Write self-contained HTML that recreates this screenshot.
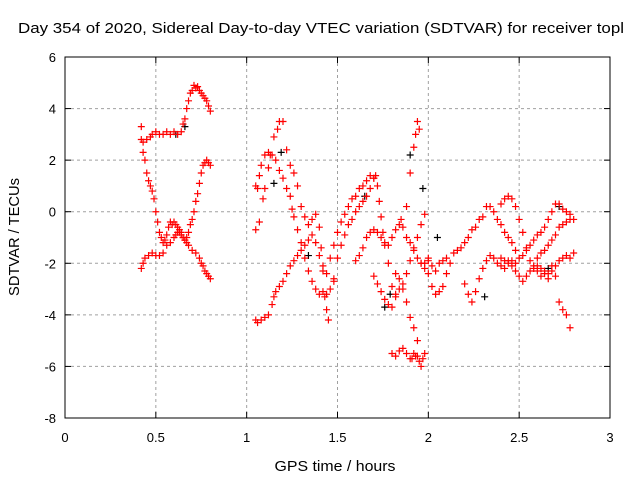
<!DOCTYPE html>
<html><head><meta charset="utf-8"><style>
body{margin:0;background:#fff}
svg{display:block;font-family:"Liberation Sans",sans-serif}
</style></head><body>
<svg id="chart" width="640" height="480">
<text x="18" y="33" font-size="15" textLength="606" lengthAdjust="spacingAndGlyphs">Day 354 of 2020, Sidereal Day-to-day VTEC variation (SDTVAR) for receiver topl</text>
<g id="grid"></g><g id="ticks"></g><g id="marks"></g>
<rect x="65" y="57" width="545" height="361" fill="none" stroke="#000"/>
<text x="335" y="471" text-anchor="middle" font-size="15" textLength="121" lengthAdjust="spacingAndGlyphs">GPS time / hours</text>
<text transform="translate(19,237) rotate(-90)" text-anchor="middle" font-size="15" textLength="118" lengthAdjust="spacingAndGlyphs">SDTVAR / TECUs</text>
</svg>
<script>
const xTicks=[0,0.5,1,1.5,2,2.5,3];
const xTickLabels=["0","0.5","1","1.5","2","2.5","3"];
const yTicks=[-8,-6,-4,-2,0,2,4,6];
const yTickLabels=["-8","-6","-4","-2","0","2","4","6"];
const redT=[0.42,0.43,0.45,0.47,0.48,0.5,0.52,0.54,0.56,0.58,0.6,0.62,0.64,0.65,0.66,0.67,0.68,0.69,0.7,0.71,0.72,0.73,0.74,0.75,0.76,0.77,0.78,0.79,0.8,
0.42,0.43,0.44,0.45,0.46,0.47,0.48,0.49,0.5,0.51,0.52,0.53,0.54,0.55,0.56,0.57,0.58,0.59,0.6,0.61,0.62,0.63,0.64,0.65,0.66,0.67,0.68,0.7,0.72,0.74,0.75,0.76,0.77,0.78,0.79,0.8,
0.42,0.43,0.44,0.46,0.48,0.5,0.52,0.54,0.56,0.58,0.6,0.61,0.62,0.63,0.64,0.65,0.66,0.67,0.68,0.69,0.7,0.71,0.72,0.73,0.74,0.75,0.76,0.77,0.78,0.79,0.8,
1.05,1.06,1.08,1.1,1.12,1.14,1.15,1.16,1.18,1.2,1.22,1.24,1.26,1.28,1.3,1.32,1.34,1.36,1.38,1.4,1.42,1.44,1.46,1.48,1.5,1.52,1.54,1.56,1.58,1.6,1.62,1.64,1.66,1.68,1.7,
1.05,1.06,1.07,1.08,1.1,1.12,1.14,1.16,1.18,1.2,1.22,1.24,1.25,1.26,1.28,1.3,1.32,1.34,1.36,1.38,1.4,1.42,1.44,1.46,1.48,
1.05,1.07,1.09,1.1,1.12,1.13,1.15,1.17,1.18,1.2,1.22,1.24,1.26,1.28,1.3,1.32,1.34,1.36,1.38,1.4,1.41,1.42,1.43,1.44,1.45,
1.48,1.5,1.52,1.54,1.56,1.58,1.6,1.62,1.64,1.66,1.68,1.7,1.71,1.72,1.73,1.74,1.75,1.76,1.78,1.8,1.82,
1.6,1.62,1.64,1.66,1.68,1.7,1.72,1.74,1.76,1.78,1.8,1.82,1.84,1.86,1.88,1.9,1.92,1.94,1.96,1.98,2.0,
1.7,1.72,1.74,1.76,1.78,1.8,1.82,1.84,1.86,1.88,1.9,1.92,1.94,1.96,1.98,
1.8,1.82,1.84,1.86,1.88,1.9,1.91,1.92,1.93,1.94,1.95,1.96,1.97,1.98,2.0,2.02,2.04,2.06,2.08,2.1,
1.82,1.84,1.86,1.88,1.9,1.92,1.94,1.96,1.98,2.0,
1.85,1.88,1.9,1.92,1.93,1.94,1.95,
2.02,2.04,2.06,2.08,2.1,2.12,2.14,2.16,2.18,2.2,2.22,2.24,2.26,2.28,2.3,2.32,2.34,2.36,2.38,2.4,2.42,2.44,2.46,2.48,
2.2,2.22,2.24,2.26,2.28,2.3,2.32,2.34,2.36,2.38,2.4,2.42,2.44,2.46,2.48,2.5,2.52,2.54,2.56,2.58,2.6,2.62,2.64,2.66,2.68,2.7,2.72,2.74,2.76,2.78,2.8,
2.4,2.42,2.44,2.46,2.48,2.5,2.52,2.54,2.56,2.58,2.6,2.62,2.64,2.66,2.68,2.7,2.72,2.74,2.76,2.78,2.8,
2.4,2.42,2.44,2.46,2.48,2.5,2.52,2.54,2.56,2.58,2.6,2.62,2.64,2.66,2.68,2.7,2.72,2.74,2.76,2.78,
2.6,2.62,2.64,2.66,2.68,2.7,2.72,2.74,2.76,2.78];
const redV=[2.8,2.7,2.8,2.9,3.0,3.1,3.0,3.0,3.1,3.0,3.1,3.0,3.1,3.4,3.6,4.0,4.3,4.6,4.7,4.9,4.8,4.85,4.7,4.6,4.5,4.4,4.3,4.1,3.9,
3.3,2.3,2.0,1.5,1.2,1.0,0.8,0.5,0.0,-0.4,-0.8,-1.0,-1.2,-1.1,-0.9,-0.6,-0.4,-0.5,-0.4,-0.5,-0.6,-0.8,-0.9,-1.0,-1.1,-1.2,-1.3,-1.5,-1.6,-1.8,-2.0,-2.1,-2.3,-2.4,-2.5,-2.6,
-2.2,-2.0,-1.8,-1.7,-1.6,-1.7,-1.7,-1.6,-1.3,-1.2,-1.0,-0.9,-0.8,-0.7,-0.8,-1.0,-1.1,-1.0,-0.8,-0.5,-0.3,0.0,0.4,0.7,1.1,1.5,1.8,1.9,2.0,1.9,1.8,
-4.2,-4.3,-4.2,-4.1,-4.0,-3.6,-3.3,-3.1,-2.9,-2.7,-2.4,-2.1,-1.9,-1.7,-1.5,-1.3,-1.1,-0.9,-1.2,-1.7,-2.1,-2.4,-1.8,-1.3,-0.8,-0.4,-0.1,0.2,0.5,0.6,0.9,1.0,1.2,1.4,1.3,
1.0,0.9,1.4,1.8,2.2,2.3,2.2,2.0,1.6,1.3,0.9,0.6,0.1,-0.2,-0.7,-1.2,-1.8,-2.3,-2.7,-3.0,-3.2,-3.1,-3.2,-3.0,-2.7,
-0.7,-0.4,0.5,0.9,1.7,2.2,2.9,3.2,3.5,3.5,2.4,1.8,1.5,1.0,0.2,-0.2,-0.5,-0.3,-0.1,-0.6,-1.4,-2.3,-3.3,-3.8,-4.2,
-2.6,-1.8,-1.3,-0.9,-0.5,-0.3,0.0,0.2,0.4,0.6,0.9,1.3,1.4,1.0,0.4,-0.2,-0.8,-1.3,-2.0,-2.9,-3.2,
-1.9,-1.7,-1.4,-1.0,-0.8,-0.7,-0.8,-1.0,-1.2,-1.3,-1.0,-0.7,-0.5,-0.6,-1.0,-1.2,-1.5,-1.8,-2.0,-2.0,-1.9,
-2.5,-2.8,-3.1,-3.4,-3.6,-3.7,-3.3,-3.0,-2.8,-2.4,-1.9,-1.4,-1.0,-0.5,-0.1,
-5.5,-5.6,-5.4,-5.3,-5.5,-5.7,-5.7,-5.5,-5.6,-5.6,-5.8,-6.0,-5.7,-5.5,-1.8,-2.1,-2.3,-2.0,-1.9,-1.8,
-2.4,-2.6,-3.0,-3.5,-4.1,-4.5,-5.0,-2.0,-2.2,-2.4,
-0.3,0.2,1.5,2.5,3.0,3.5,3.2,
-2.9,-3.2,-3.1,-2.9,-2.4,-2.0,-1.6,-1.5,-1.4,-1.2,-1.0,-0.7,-0.6,-0.3,-0.2,0.2,0.2,0.0,-0.3,-0.5,-0.8,-1.0,-1.2,-1.5,
-2.8,-3.2,-3.5,-3.1,-2.6,-2.2,-1.9,-1.7,-1.8,-2.0,-2.1,-2.2,-2.0,-1.9,-2.0,-1.8,-1.7,-1.5,-1.3,-1.1,-0.9,-0.8,-0.6,-0.3,0.0,0.3,0.3,0.1,0.0,-0.1,-0.3,
0.3,0.5,0.6,0.5,0.2,-0.3,-0.8,-1.4,-1.9,-2.2,-2.3,-2.5,-2.4,-2.6,-2.3,-2.1,-1.9,-1.8,-1.7,-1.8,-1.6,
-1.8,-1.9,-1.9,-2.1,-2.3,-2.5,-2.7,-2.5,-2.3,-2.1,-1.8,-1.6,-1.5,-1.3,-1.1,-0.9,-0.6,-0.5,-0.4,-0.3,
-2.1,-2.2,-2.3,-2.4,-2.1,-2.5,-3.5,-3.8,-4.0,-4.5];
const blackT=[0.61,0.66,1.15,1.19,1.34,1.65,1.76,1.79,1.9,1.97,2.05,2.31,2.66,2.72];
const blackV=[3.0,3.3,1.1,2.3,-1.7,0.6,-3.7,-3.2,2.2,0.9,-1.0,-3.3,-2.2,0.2];

const L=65,R=610,T=57,B=418;
const xs=t=>L+(t-0)/3*(R-L);
const ys=v=>B-(v+8)/14*(B-T);
const NS="http://www.w3.org/2000/svg";
const grid=document.getElementById('grid'),ticks=document.getElementById('ticks'),marks=document.getElementById('marks');
function mk(tag,attrs,parent){const e=document.createElementNS(NS,tag);for(const k in attrs)e.setAttribute(k,attrs[k]);parent.appendChild(e);return e;}
xTicks.forEach((t,i)=>{const x=xs(t);
 if(i>0&&i<xTicks.length-1){const g=mk('line',{x1:x,x2:x,y1:T,y2:B,stroke:'#a0a0a0','stroke-dasharray':'3,3'},grid);
 
 }
 mk('line',{x1:x,x2:x,y1:B,y2:B-6,stroke:'#000'},ticks);mk('line',{x1:x,x2:x,y1:T,y2:T+6,stroke:'#000'},ticks);
 const tx=mk('text',{x:x,y:B+24,'text-anchor':'middle','font-size':'13'},ticks);tx.textContent=xTickLabels[i];
 
 });
yTicks.forEach((v,i)=>{const y=ys(v);
 if(i>0&&i<yTicks.length-1){const g=mk('line',{x1:L,x2:R,y1:y,y2:y,stroke:'#a0a0a0','stroke-dasharray':'3,3'},grid);
 
 }
 mk('line',{x1:L,x2:L+6,y1:y,y2:y,stroke:'#000'},ticks);mk('line',{x1:R,x2:R-6,y1:y,y2:y,stroke:'#000'},ticks);
 const tx=mk('text',{x:L-9,y:y+5,'text-anchor':'end','font-size':'13'},ticks);tx.textContent=yTickLabels[i];
 
 });
function cross(t,v,color,name){const x=xs(t),y=ys(v);
 const p=mk('path',{d:`M${x-3.5},${y}H${x+3.5}M${x},${y-3.5}V${y+3.5}`,stroke:color,'stroke-width':'1.2',fill:'none'},marks);
 
 }
blackT.forEach((t,i)=>cross(t,blackV[i],'#000','black-point'));
redT.forEach((t,i)=>cross(t,redV[i],'#ff0000','red-point'));
</script>
</body></html>
